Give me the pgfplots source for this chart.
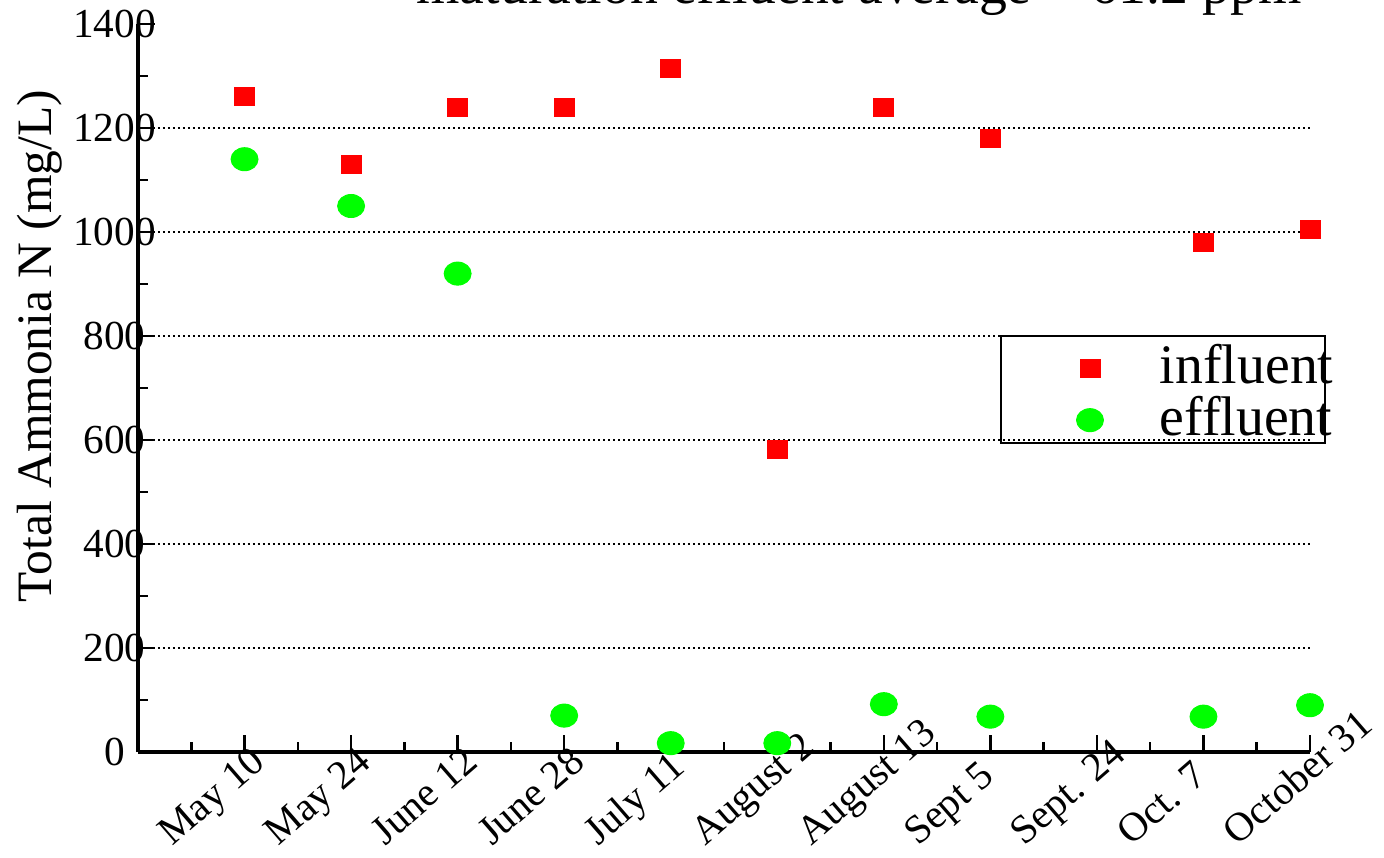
\documentclass[border=0pt]{standalone}
\usepackage{fontspec}
\setmainfont{Liberation Serif}
\usepackage{pgfplots}
\pgfplotsset{compat=1.18}
\begin{document}
\begin{tikzpicture}
\path[use as bounding box] (-55.2pt,-42pt) rectangle (498.4pt,300.8pt);
\begin{axis}[
  at={(0pt,0pt)}, anchor=south west,
  scale only axis, width=468.8pt, height=291.2pt,
  xmin=0, xmax=11, ymin=0, ymax=1400,
  axis x line=bottom, axis y line=left,
  axis line style={-, line width=1.3pt},
  clip=false,
  xtick={1,...,11},
  xticklabels={May 10, May 24, June 12, June 28, July 11, August 2, August 13, Sept 5, Sept. 24, Oct. 7, October 31},
  minor xtick={0.5,1.5,...,10.5},
  ytick={0,200,...,1400},
  minor ytick={100,300,...,1300},
  extra y ticks={200,400,...,1200},
  extra y tick labels={,,,,,},
  extra y tick style={grid=major},
  grid style={black, dash pattern=on 0.8pt off 1.2pt, line width=0.6pt},
  tick align=inside,
  major tick length=6.8pt, minor tick length=4pt,
  tick style={black, line width=1pt},
  /pgf/number format/assume math mode=true,
  /pgf/number format/1000 sep={},
  yticklabel style={font=\fontsize{16.5}{19}\selectfont, anchor=center, inner sep=0pt, xshift=-9.4pt},
  xticklabel style={font=\fontsize{16.2}{19}\selectfont, inner sep=0pt, xshift=-29pt, yshift=-38pt, rotate=41, anchor=base west},
  ylabel={Total Ammonia N (mg/L)},
  ylabel style={at={(axis description cs:-0.0836,0.5577)}, anchor=center, font=\fontsize{19.8}{23}\selectfont, inner sep=0pt},
  title={maturation effluent average = 61.2 ppm},
  title style={at={(axis description cs:0.6152,1.0082)}, anchor=base, font=\fontsize{22.3}{26}\selectfont, inner sep=0pt},
  legend style={at={(0.8008,0.5599)}, anchor=north west, draw=none, fill=none, inner sep=0pt, outer sep=0pt, row sep=3.4pt, column sep=22.6pt, font=\fontsize{22.3}{25}\selectfont, nodes={inner sep=0pt, anchor=base west}},
  legend image code/.code={\draw[#1] plot coordinates {(0pt,6pt)};},
]
\addplot[only marks, mark=square*, color=red, mark size=4pt, mark options={yscale=0.9}]
  coordinates {(1,1260) (2,1130) (3,1240) (4,1240) (5,1315) (6,582) (7,1240) (8,1180) (10,980) (11,1005)};
\addlegendentry{influent}
\addplot[only marks, mark=*, color=green, mark size=4.6pt, mark options={xscale=1.17}]
  coordinates {(1,1140) (2,1050) (3,920) (4,70) (5,17) (6,17) (7,92) (8,68) (10,68) (11,90)};
\addlegendentry{effluent}
\draw[line width=0.9pt] (rel axis cs:0.7363,0.4245) rectangle (rel axis cs:1.0128,0.5714);
\end{axis}
\end{tikzpicture}
\end{document}
